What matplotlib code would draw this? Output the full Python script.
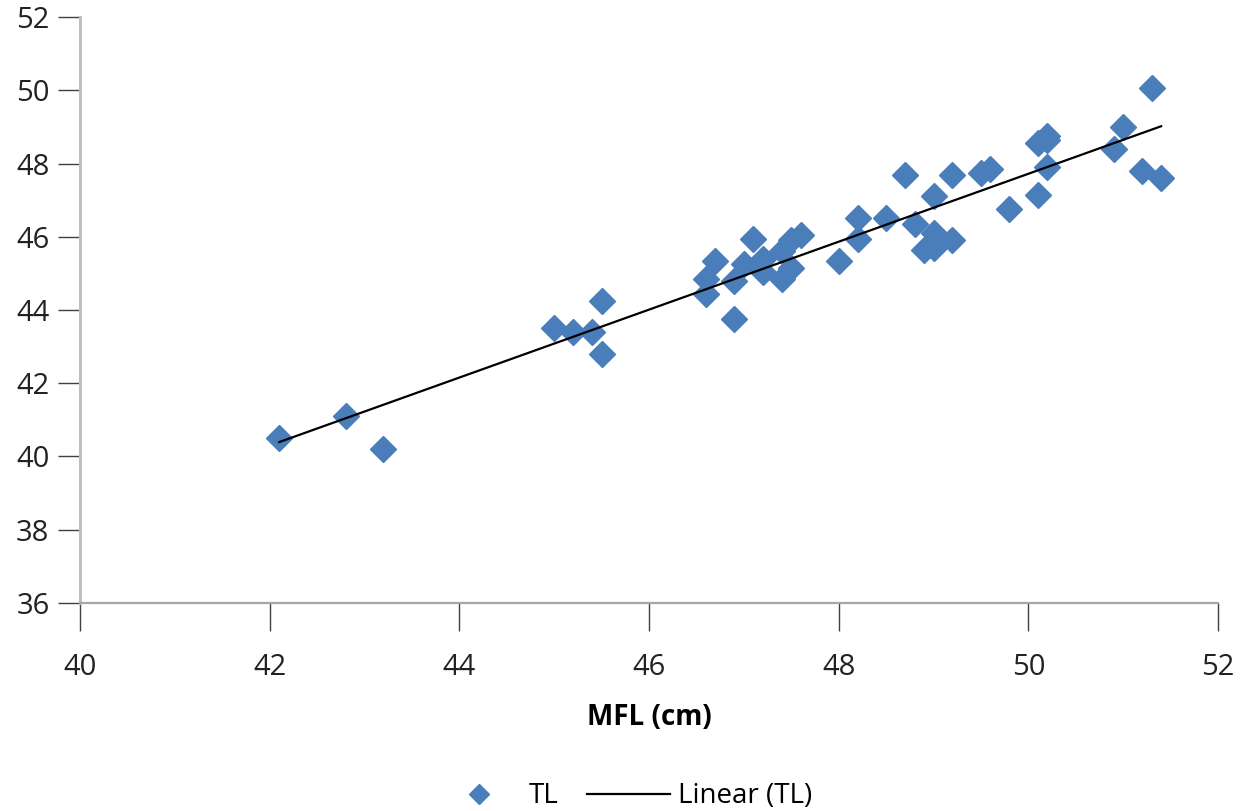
import matplotlib.pyplot as plt
import numpy as np

plt.rcParams['font.family'] = ['Open Sans', 'DejaVu Sans']

# MFL (cm) vs TL
mfl = [42.1, 42.8, 43.2, 45.0, 45.2, 45.4, 45.5, 45.5,
       46.6, 46.6, 46.7, 46.9, 46.9, 47.0, 47.1, 47.2, 47.2,
       47.4, 47.4, 47.5, 47.5, 47.6, 48.0, 48.2, 48.2, 48.5,
       48.7, 48.8, 48.9, 49.0, 49.0, 49.0, 49.2, 49.2, 49.5,
       49.6, 49.8, 50.1, 50.1, 50.2, 50.2, 50.2, 50.9, 51.0,
       51.2, 51.3, 51.4]
tl = [40.5, 41.1, 40.2, 43.5, 43.4, 43.4, 44.25, 42.8,
      44.85, 44.45, 45.35, 43.75, 44.8, 45.25, 45.95, 45.4, 45.05,
      45.6, 44.85, 45.15, 45.9, 46.05, 45.35, 46.5, 45.95, 46.5,
      47.7, 46.35, 45.65, 45.7, 46.1, 47.1, 45.9, 47.7, 47.75,
      47.85, 46.75, 47.15, 48.55, 47.9, 48.65, 48.75, 48.4, 49.0,
      47.8, 50.05, 47.6]

x_ticks = [40, 42, 44, 46, 48, 50, 52]
y_ticks = [36, 38, 40, 42, 44, 46, 48, 50, 52]

blue = '#4A7EBB'

fig = plt.figure(figsize=(12.5, 8.11), dpi=100)
ax = fig.add_axes([0.064, 0.2565, 0.9104, 0.7225])

ax.plot(mfl, tl, linestyle='none', marker='D', markersize=13,
        color=blue, label='TL')

# linear trendline over the data range
k, b = np.polyfit(mfl, tl, 1)
xs = np.array([min(mfl), max(mfl)])
ax.plot(xs, k * xs + b, color='black', lw=1.6, label='Linear (TL)')

ax.set_xlim(40, 52)
ax.set_ylim(36, 52)
ax.set_xticks(x_ticks)
ax.set_yticks(y_ticks)

for s in ['top', 'right']:
    ax.spines[s].set_visible(False)
ax.spines['left'].set_color('#BFBFBF')
ax.spines['left'].set_linewidth(2.2)
ax.spines['bottom'].set_color('#A6A6A6')
ax.spines['bottom'].set_linewidth(1.6)

ax.tick_params(axis='x', direction='out', length=20, width=1, color='#404040',
               labelsize=21, pad=16, labelcolor='#222222')
ax.tick_params(axis='y', direction='out', length=16, width=1, color='#404040',
               labelsize=21, pad=6, labelcolor='#222222')

ax.set_xlabel('MFL (cm)', fontsize=20, fontweight='bold', labelpad=15)

fig.legend(loc='lower center', bbox_to_anchor=(0.5, -0.03), ncol=2,
           frameon=False, fontsize=20, handlelength=3.0, columnspacing=1.0,
           markerscale=0.8, handletextpad=0.3)

fig.savefig('out.png', dpi=100)
